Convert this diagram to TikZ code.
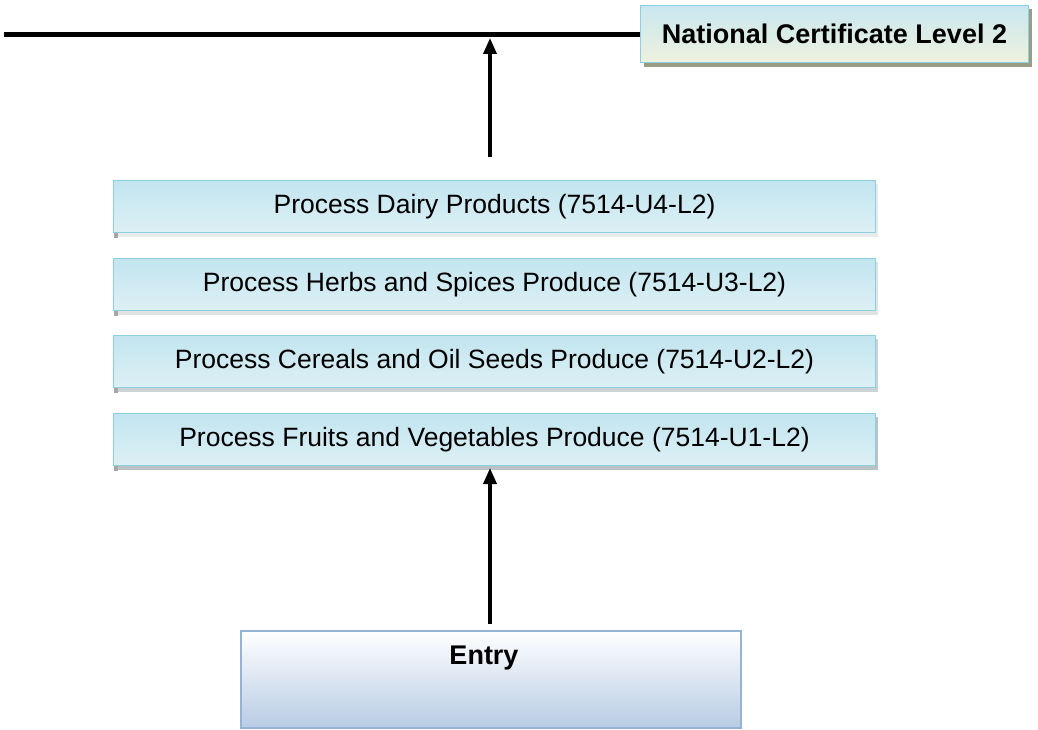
\documentclass[tikz,border=0pt]{standalone}
\usepackage{fontspec}
\setmainfont{Liberation Sans}
\usetikzlibrary{arrows.meta}
\definecolor{procdraw}{HTML}{8CCFE0}
\definecolor{proctop}{HTML}{C2E5EF}
\definecolor{procbot}{HTML}{DDF0F5}
\definecolor{nctop}{HTML}{C9E7F0}
\definecolor{ncbot}{HTML}{EEF2DE}
\definecolor{ncshadow}{HTML}{9A9C86}
\definecolor{procshadow}{HTML}{A4AEB2}
\definecolor{entrydraw}{HTML}{95B3D7}
\definecolor{entrybot}{HTML}{B8CCE4}
\tikzset{
  x=1pt, y=-1pt,
  proctext/.style={font=\fontsize{26.5}{30}\selectfont},
  boldtext/.style={font=\bfseries\fontsize{27}{30}\selectfont},
  procbox/.style={draw=procdraw, line width=1pt, top color=proctop, bottom color=procbot,
    minimum width=762pt, minimum height=52pt, inner sep=0pt, proctext,
    anchor=north west},
  ncbox/.style={draw=procdraw, line width=1pt, top color=nctop, bottom color=ncbot,
    minimum width=388pt, minimum height=57pt, inner sep=0pt, anchor=north west},
  entrybox/.style={draw=entrydraw, line width=1.5pt, top color=white, bottom color=entrybot,
    minimum width=500pt, minimum height=97pt, anchor=north west},
  uparrow/.style={-{Triangle[length=16pt,width=13pt]}, line width=3.5pt},
  mainline/.style={line width=5pt}
}
\begin{document}
\begin{tikzpicture}
\useasboundingbox (0,0) rectangle (1038,730);
% NC box
\fill[ncshadow] (644,9) rectangle (1032,67);
\node[ncbox] (nc) at (640,5) {};
\node[boldtext] (nctext) at (nc.center) {National Certificate Level 2};
\coordinate (lstart) at (4,35);
\coordinate (ljoin) at (640,35);
\draw[mainline] (lstart) -- (ljoin);
% process boxes (shadows)
\foreach \yy/\sh in {180/25,258/35,335/55,413/75}{
  \fill[procshadow!\sh!white] (116,\yy+4) rectangle (878,\yy+57);
  \fill[gray!70] (114,\yy+52) rectangle (118,\yy+58);
}
\node[procbox] (dairy) at (113,180) {Process Dairy Products (7514-U4-L2)};
\node[procbox] (herbs) at (113,258) {Process Herbs and Spices Produce (7514-U3-L2)};
\node[procbox] (cereals) at (113,335) {Process Cereals and Oil Seeds Produce (7514-U2-L2)};
\node[procbox] (fruits) at (113,413) {Process Fruits and Vegetables Produce (7514-U1-L2)};
% entry
\node[entrybox] (entry) at (240,630) {};
\node[boldtext] (entrytxt) at (484,658) {Entry};
% arrows
\coordinate (a1s) at (490,157);
\coordinate (a1e) at (490,38);
\draw[uparrow] (a1s) -- (a1e);
\coordinate (a2s) at (490,624);
\coordinate (a2e) at (490,468);
\draw[uparrow] (a2s) -- (a2e);
\end{tikzpicture}
\end{document}
